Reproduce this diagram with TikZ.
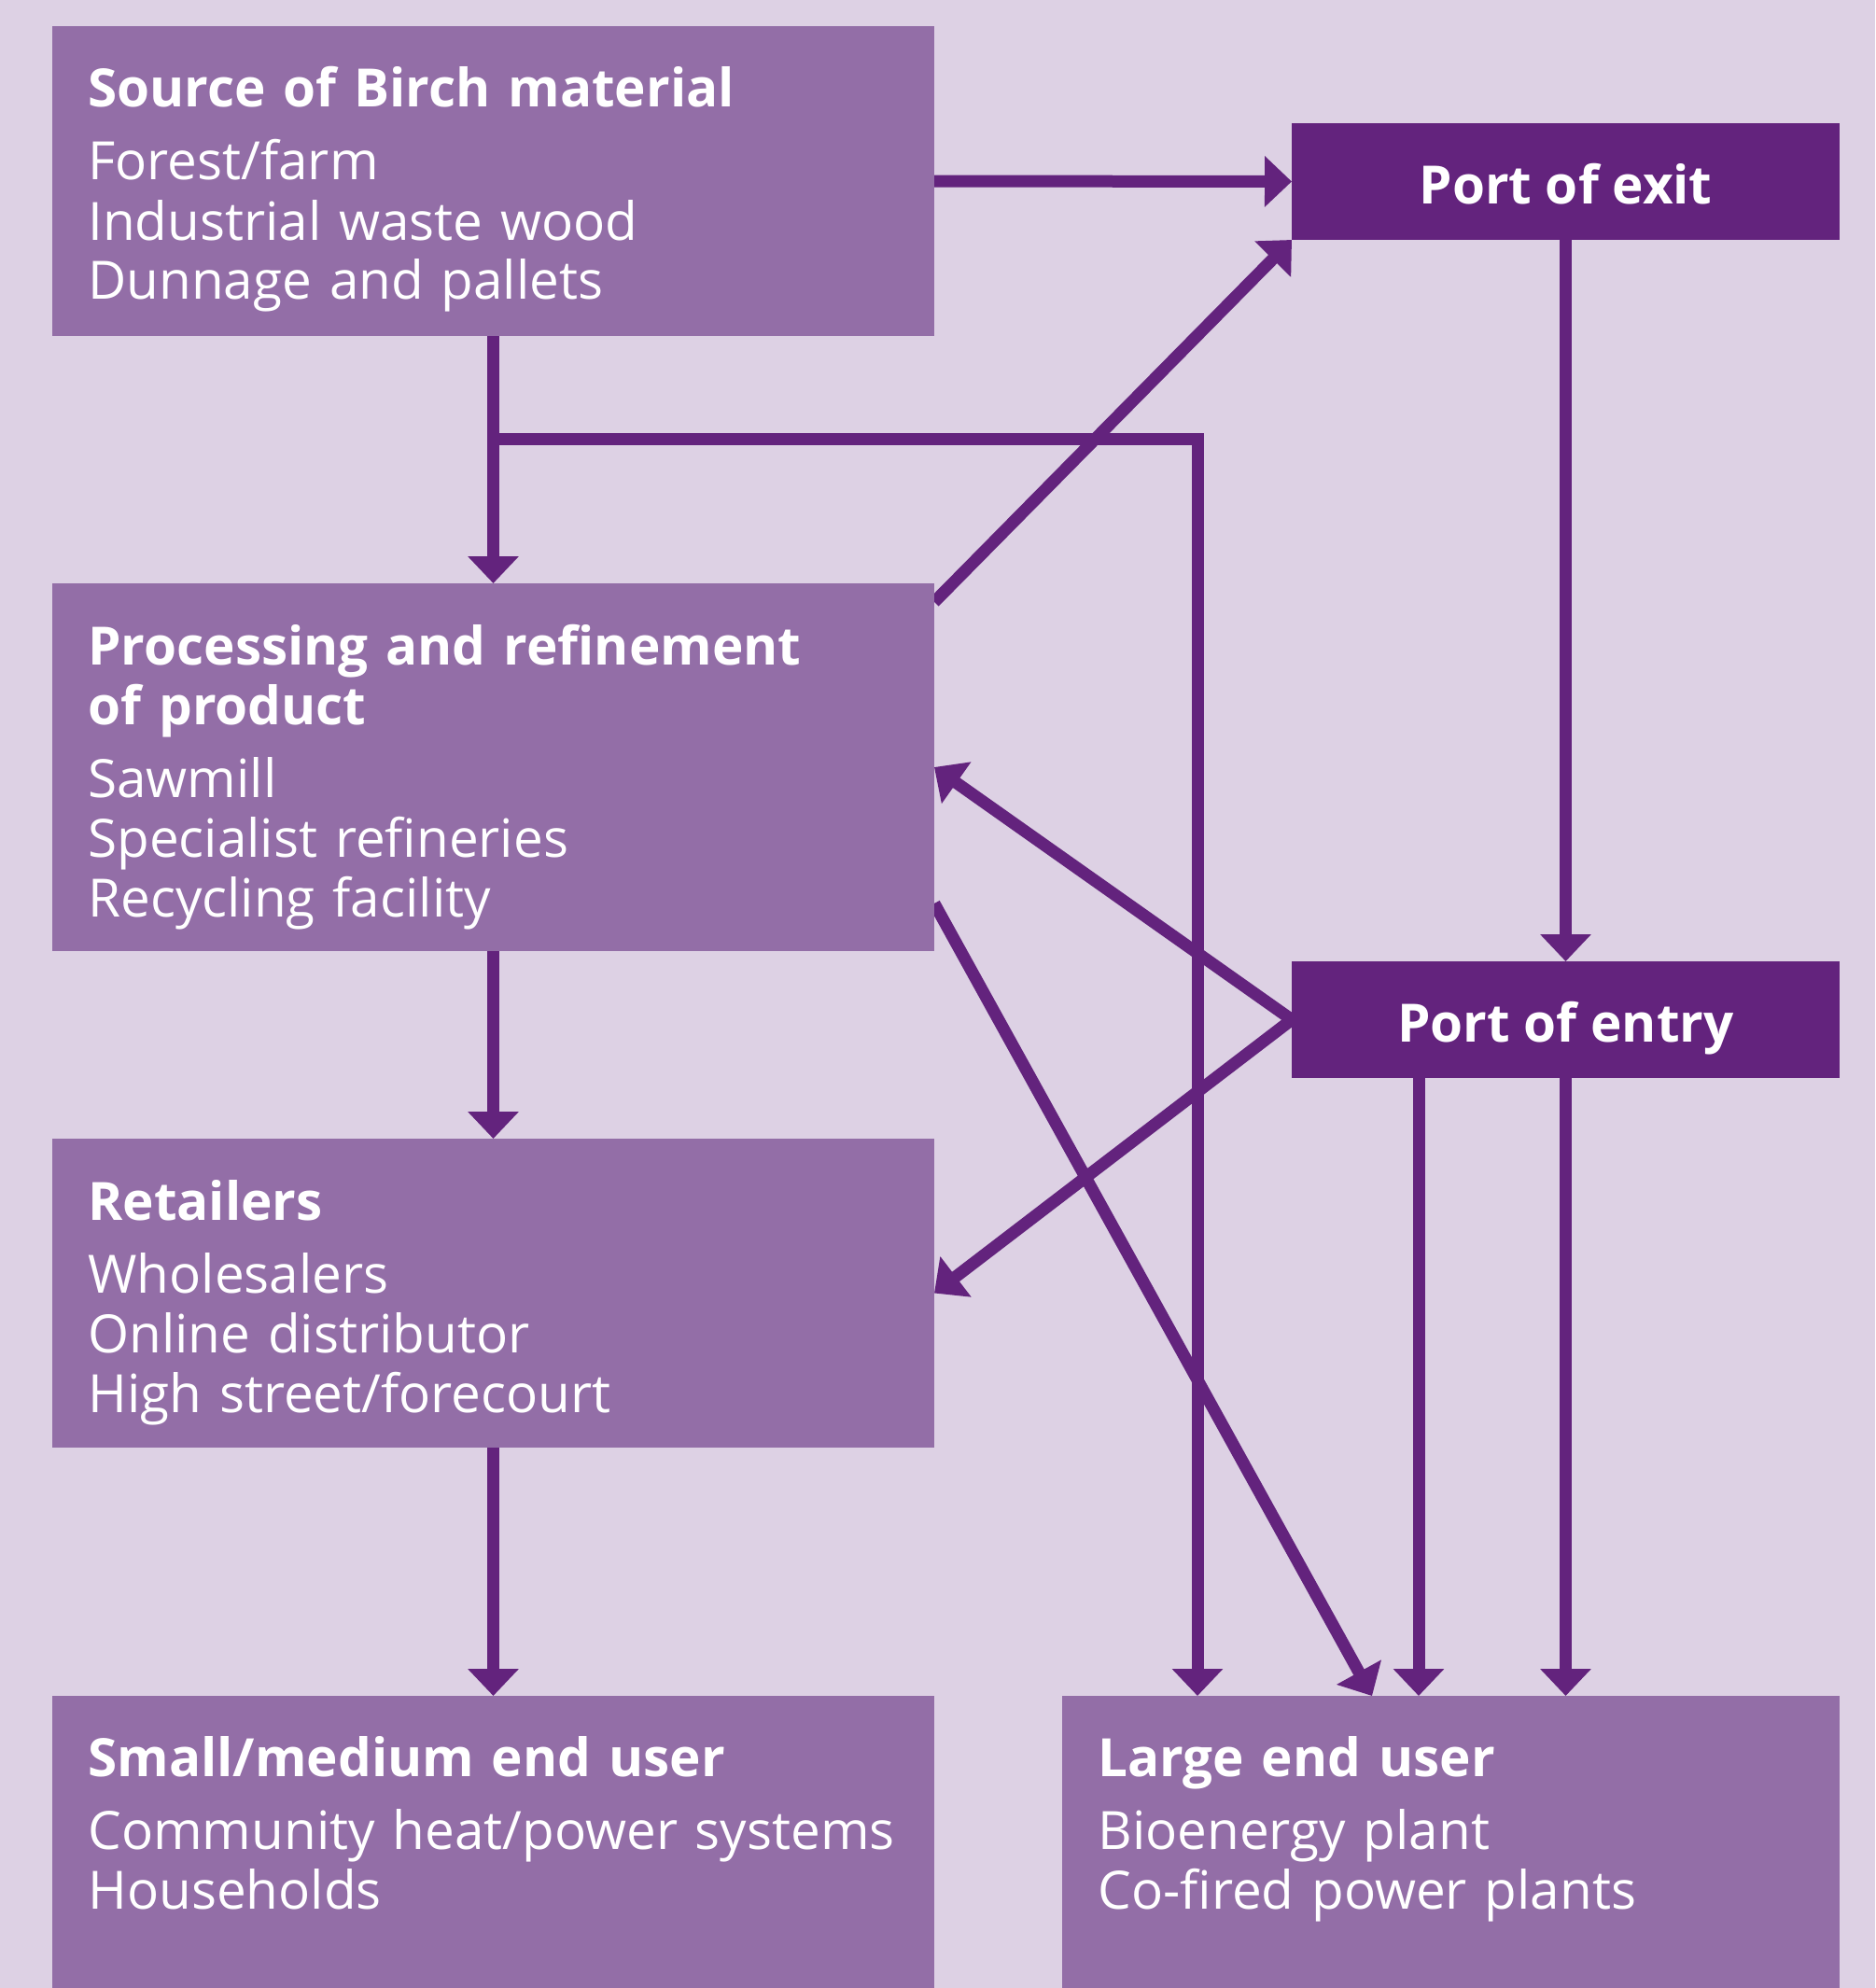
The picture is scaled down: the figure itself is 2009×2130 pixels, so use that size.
\documentclass[tikz,border=0pt]{standalone}
\usepackage{fontspec}
\setmainfont{Open Sans}
\usetikzlibrary{arrows.meta,positioning,calc}
\definecolor{bgpurple}{HTML}{DDD1E4}
\definecolor{boxpurple}{HTML}{936EA7}
\definecolor{darkpurple}{HTML}{63237D}
\pgfdeclarelayer{backdrop}
\pgfdeclarelayer{links}
\pgfsetlayers{backdrop,links,main}
\tikzset{
  box/.style={fill=boxpurple, anchor=north west, inner sep=0pt, outer sep=0pt, minimum width=472.5pt},
  portbox/.style={fill=darkpurple, text=white, font=\fontsize{28.3}{32}\selectfont\bfseries,
    minimum width=293.5pt, minimum height=62.5pt, text height=23.5pt, text depth=0pt,
    inner sep=0pt, outer sep=0pt, anchor=north west},
  boxtext/.style={anchor=base west, inner sep=0pt, text=white, text width=460pt, align=left,
    font=\fontsize{28.3}{32}\selectfont},
  flow/.style={draw=darkpurple, line width=6.5pt, -{Triangle[width=26.5pt,length=14.5pt]}}
}
\begin{document}
\begin{tikzpicture}[x=0.5pt, y=-0.5pt]
\useasboundingbox (0,0) rectangle (2009,2130);
\begin{pgfonlayer}{backdrop}
  \fill[bgpurple] (0,0) rectangle (2009,2130);
\end{pgfonlayer}
% boxes
\node[box, minimum height=166pt] (src) at (56,28) {};
\node[box, minimum height=197pt] (proc) at (56,625) {};
\node[box, minimum height=165.5pt] (ret) at (56,1220) {};
\node[box, minimum height=156.5pt] (small) at (56,1817) {};
\node[box, minimum width=416.5pt, minimum height=156.5pt] (large) at (1138,1817) {};
\node[portbox] (exit) at (1384,132) {Port of exit};
\node[portbox] (entry) at (1384,1030) {Port of entry};
% texts
\node[boxtext] (srctext) at ($(src.north west)+(38,87)$) {\textbf{Source of Birch material}\\[7pt]
  Forest/farm\\ Industrial waste wood\\ Dunnage and pallets};
\node[boxtext] (proctext) at ($(proc.north west)+(38,87)$) {\textbf{Processing and refinement}\\
  \textbf{of product}\\[7pt] Sawmill\\ Specialist refineries\\ Recycling facility};
\node[boxtext] (rettext) at ($(ret.north west)+(38,87)$) {\textbf{Retailers}\\[7pt]
  Wholesalers\\ Online distributor\\ High street/forecourt};
\node[boxtext] (smalltext) at ($(small.north west)+(38,86)$) {\textbf{Small/medium end user}\\[7pt]
  Community heat/power systems\\ Households};
\node[boxtext, text width=400pt] (largetext) at ($(large.north west)+(38,86)$) {\textbf{Large end user}\\[7pt]
  Bioenergy plant\\ Co-fired power plants};
% arrows
\begin{pgfonlayer}{links}
  \coordinate (split) at ($(src.south)+(0,110)$);
  \coordinate (largein) at ($(large.north west)+(145,0)$);
  \draw[flow] (src.east) -- (exit.west);
  \draw[flow] (src.south) -- (proc.north);
  \draw[flow] (split) -| (largein);
  \draw[flow] ($(proc.north east)+(0,20)$) -- (exit.south west);
  \draw[flow] (entry.west) -- (proc.east);
  \draw[flow] (entry.west) -- (ret.east);
  \draw[flow] ($(proc.east)+(0,146)$) -- ($(large.north west)+(332,0)$);
  \draw[flow] (exit.south) -- (entry.north);
  \draw[flow] ($(entry.south west)+(136,0)$) -- ($(large.north west)+(382,0)$);
  \draw[flow] (entry.south) -- (entry.south |- large.north);
  \draw[flow] (proc.south) -- (ret.north);
  \draw[flow] (ret.south) -- (small.north);
\end{pgfonlayer}
\end{tikzpicture}
\end{document}
